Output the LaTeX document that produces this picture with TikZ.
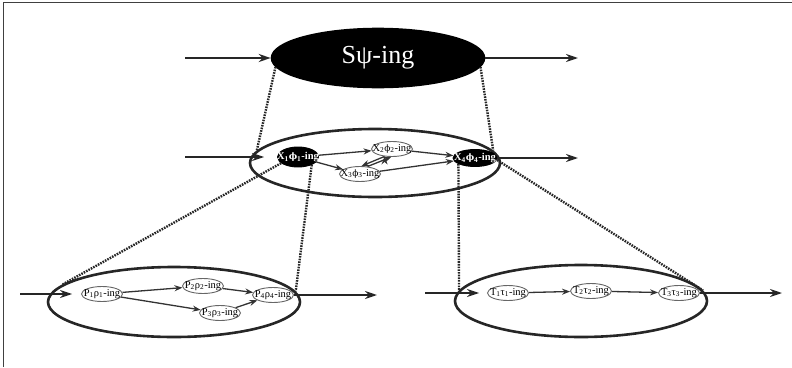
\documentclass[tikz,border=0pt]{standalone}
\usepackage{fontspec}
\setmainfont{Liberation Serif}
\newfontfamily\gk{DejaVu Serif}[Scale=0.85]
\usetikzlibrary{arrows.meta,positioning,shapes.geometric}
\tikzset{
	thick,
	>={Stealth[length=12pt,width=8pt]},
}
% label of a small ellipse, e.g. \ing{X}{\gk ϕ}{1}
\newcommand{\ing}[3]{\makebox[0pt]{#1\textsubscript{#3}{#2}\textsubscript{#3}-ing}}

\begin{document}
\begin{tikzpicture}
	[x=1pt, y=-1pt, font=\fontsize{10.5}{12}\selectfont,
		% STYLES
		% The level style is used to draw the big ellipses
		level/.style={ellipse, draw=black!85, line width=2.6pt, inner sep=0pt},
		% The act style is used to draw the small white ellipses
		act/.style={ellipse, draw=black!60, line width=0.9pt, fill=white,
				inner sep=0pt, minimum width=41pt, minimum height=15pt},
		% The key style is used to draw the black ellipses
		key/.style={act, draw=black, fill=black, text=white,
				font=\fontsize{10.5}{12}\selectfont\bfseries},
		flow/.style={->, line width=2.2pt, draw=black!85},
		link/.style={-{Stealth[length=8pt,width=6pt]}, line width=1.3pt, draw=black!80},
		zoomline/.style={draw=black!85, line width=2.4pt, dash pattern=on 1.6pt off 1.1pt}]

	\useasboundingbox (0,0) rectangle (792,367);
	\draw[black!75, line width=1pt] (3,367) -- (3,2) -- (792,2);

	% Draw levels
	\node [level, fill=black, draw=black, minimum width=212pt, minimum height=58pt,
		text=white, font=\fontsize{26}{30}\selectfont] (s) at (378,58) {Sψ-ing};
	\node [level, minimum width=250pt, minimum height=68pt] (mid) at (375,163) {};
	\node [level, minimum width=252pt, minimum height=70pt] (pl) at (174,302) {};
	\node [level, minimum width=252pt, minimum height=72pt] (pr) at (581,301) {};

	% Draw actions
	\node [key, minimum height=20pt] (x1) at (298,157) {\ing{X}{\gk ϕ}{1}};
	\node [act] (x2) at (392,149) {\ing{X}{\gk ϕ}{2}};
	\node [act] (x3) at (360,174) {\ing{X}{\gk ϕ}{3}};
	\node [key, minimum width=44pt, minimum height=17pt] (x4) at (475,158) {\ing{X}{\gk ϕ}{4}};

	\node [act] (p1) at (102,294) {\ing{P}{ρ}{1}};
	\node [act] (p2) at (203,286) {\ing{P}{ρ}{2}};
	\node [act] (p3) at (220,313) {\ing{P}{ρ}{3}};
	\node [act] (p4) at (273,295) {\ing{P}{ρ}{4}};

	\node [act] (t1) at (508,293) {\ing{T}{τ}{1}};
	\node [act] (t2) at (591,291) {\ing{T}{τ}{2}};
	\node [act] (t3) at (679,293) {\ing{T}{τ}{3}};

	% free ends of the flows
	\coordinate (s-in) at (185,58);
	\coordinate (s-out) at (578,58);
	\coordinate (mid-in) at (185,157);
	\coordinate (mid-out) at (578,158);
	\coordinate (pl-in) at (20,294);
	\coordinate (pl-out) at (377,295);
	\coordinate (pr-in) at (425,293);
	\coordinate (pr-out) at (782,293);

	\draw[flow] (s-in) -- (s.west);
	\draw[flow] (s.east) -- (s-out);
	\draw[flow, shorten >=13pt] (mid-in) -- (x1);
	\draw[flow] (x4) -- (mid-out);
	\draw[flow, shorten >=9pt] (pl-in) -- (p1);
	\draw[flow] (p4) -- (pl-out);
	\draw[flow, shorten >=8pt] (pr-in) -- (t1);
	\draw[flow] (t3) -- (pr-out);

	\path[link]
	(x1) edge (x2)
	(x1) edge (x3)
	(x2) edge (x4)
	(x3) edge (x4)
	(x3.45) edge (x2.-95)
	(x2.-135) edge (x3.80)
	(p1) edge (p2)
	(p1) edge (p3)
	(p2) edge (p4)
	(p3) edge (p4)
	(t1) edge (t2)
	(t2) edge (t3);

	% Draw zoom lines
	\draw[zoomline] (s.185) -- (mid.174);
	\draw[zoomline] (s.-5) -- (mid.6);
	\draw[zoomline] (x1.200) -- (pl.171);
	\draw[zoomline] (x1.-30) -- (pl.5);
	\draw[zoomline] (x4.200) -- (pr.175);
	\draw[zoomline] (x4.-5) -- (pr.5);
\end{tikzpicture}
\end{document}
